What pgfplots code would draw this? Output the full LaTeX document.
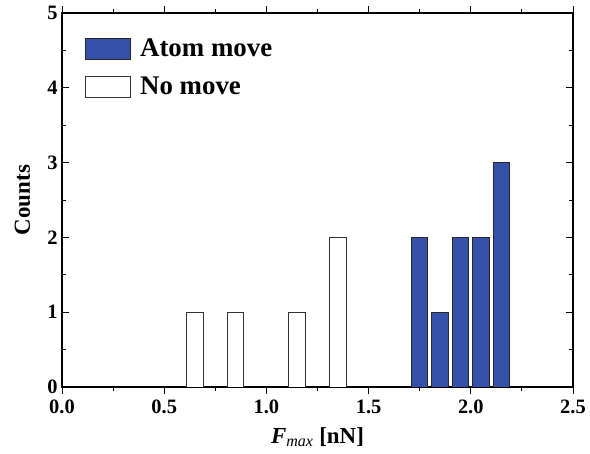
\documentclass[border=0pt]{standalone}
\usepackage{fontspec}
\setmainfont{Liberation Serif}
\usepackage{pgfplots}
\pgfplotsset{compat=1.18}
\definecolor{barblue}{RGB}{52,80,168}
\begin{document}
\begin{tikzpicture}
\useasboundingbox (0bp,0bp) rectangle (590bp,454bp);
\begin{axis}[
  at={(62bp,67bp)}, anchor=south west,
  scale only axis, width=511bp, height=374bp,
  xmin=0, xmax=2.5, ymin=0, ymax=5,
  xtick={0,0.5,1,1.5,2,2.5},
  ytick={0,1,2,3,4,5},
  minor x tick num=1, minor y tick num=1,
  tick align=inside,
  xtick pos=both, ytick pos=both,
  xticklabel pos=lower, yticklabel pos=left,
  major tick length=7bp, minor tick length=4bp,
  every tick/.style={black, line width=1bp},
  axis line style={line width=1.3bp},
  /pgf/number format/assume math mode=true,
  xticklabel style={/pgf/number format/fixed, /pgf/number format/precision=1, /pgf/number format/fixed zerofill, yshift=-2bp},
  yticklabel style={xshift=-1bp},
  ticklabel style={font=\fontsize{20.5}{20.5}\selectfont\bfseries},
  xlabel={\textbf{\textit{F}}\textsubscript{\textit{max}} \textbf{[nN]}},
  ylabel={\textbf{Counts}},
  xlabel style={at={(axis description cs:0.5,0)}, anchor=base, yshift=-56bp},
  ylabel style={at={(axis description cs:0,0.5)}, anchor=base, yshift=32bp},
  label style={font=\fontsize{23}{23}\selectfont},
  ybar, bar width=0.08, bar shift=0pt,
  legend style={at={(0.038,0.942)}, anchor=north west, draw=none, fill=none,
    font=\fontsize{27}{27}\selectfont\bfseries, row sep=15bp},
  legend cell align=left,
]
\addplot[fill=barblue, draw=black!85, line width=1bp,
  legend image code/.code={\draw[fill=barblue, draw=black!85, line width=1bp] (0bp,-10.5bp) rectangle (45bp,10.5bp); \path[draw=none, fill=none] (0bp,0bp) -- (53bp,0bp);}]
  coordinates {(1.75,2) (1.85,1) (1.95,2) (2.05,2) (2.15,3)};
\addlegendentry{Atom move}
\addplot[fill=white, draw=black!80, line width=0.9bp,
  legend image code/.code={\draw[fill=white, draw=black!80, line width=0.9bp] (0bp,-10.5bp) rectangle (45bp,10.5bp); \path[draw=none, fill=none] (0bp,0bp) -- (53bp,0bp);}]
  coordinates {(0.65,1) (0.85,1) (1.15,1) (1.35,2)};
\addlegendentry{No move}
\end{axis}
\end{tikzpicture}
\end{document}
